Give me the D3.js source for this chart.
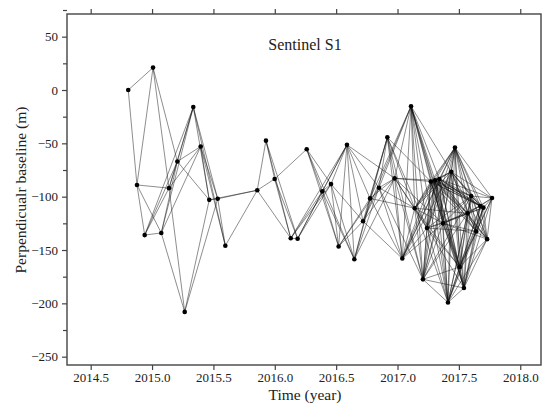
<!DOCTYPE html>
<html><head><meta charset="utf-8">
<script src="https://cdn.jsdelivr.net/npm/d3@7"></script>
<style>body{margin:0;background:#fff}svg{display:block}</style>
</head><body>
<svg id="c" width="548" height="403"></svg>
<script>
// Acquisition dates (decimal year) and perpendicular baselines (m)
const acqTime = [2014.806, 2014.877, 2014.940, 2015.008, 2015.075, 2015.138, 2015.206, 2015.266, 2015.336, 2015.396,
  2015.466, 2015.535, 2015.597, 2015.857, 2015.928, 2015.999, 2016.130, 2016.186, 2016.260, 2016.387,
  2016.458, 2016.520, 2016.588, 2016.648, 2016.719, 2016.776, 2016.849, 2016.917, 2016.977, 2017.039,
  2017.110, 2017.140, 2017.207, 2017.240, 2017.271, 2017.306, 2017.341, 2017.370, 2017.411, 2017.438,
  2017.468, 2017.506, 2017.541, 2017.571, 2017.600, 2017.641, 2017.674, 2017.700, 2017.730, 2017.770];
const baseline = [0, -89, -136, 21, -134, -92, -67, -208, -16, -53,
  -103, -102, -146, -94, -47.5, -83.4, -139, -139.4, -55.5, -95,
  -88.2, -146.7, -51.4, -158.7, -123, -101.6, -91.6, -44.4, -82.8, -158,
  -15.2, -110.8, -177.5, -129.4, -85.8, -84.7, -83.5, -125, -199.2, -76.7,
  -54, -165.9, -185.6, -115.6, -99.4, -132.6, -108.7, -110.3, -139.8, -101.3];
// Interferometric pairs: for each acquisition, the later acquisitions it is linked to
const neighbours = [
  [1, 3], [2, 4, 5, 3], [4, 5, 6, 8], [5, 6], [6, 8, 9, 7],
  [8, 9, 7, 6], [8, 9, 10], [10, 11], [10, 11, 12], [10, 11, 12],
  [11, 13], [12, 13], [13], [14, 15, 16], [15, 16, 17],
  [16, 17, 18], [17, 19, 20, 22], [19, 20, 22], [19, 20, 21, 23], [20, 21, 22, 23],
  [21, 22, 23, 24], [22, 24, 25, 26], [23, 24, 25, 26, 28], [25, 26, 27, 28], [26, 27, 28, 29, 30],
  [27, 28, 29, 30, 31], [27, 28, 29, 30, 31, 32], [28, 29, 31, 32, 33, 34], [29, 30, 31, 32, 33, 34, 35, 37], [30, 31, 33, 34, 35, 36, 37, 39, 40],
  [31, 32, 33, 34, 35, 36, 37, 38, 39, 41, 42], [32, 33, 34, 35, 36, 37, 38, 39, 40, 41, 43], [33, 34, 35, 36, 37, 38, 39, 40, 41, 42, 43, 44], [34, 35, 36, 37, 38, 39, 40, 41, 42, 43, 44, 45], [35, 36, 37, 38, 39, 40, 41, 42, 43, 44, 45, 46, 47],
  [36, 37, 38, 39, 40, 41, 42, 43, 44, 45, 46, 47, 48], [37, 38, 39, 40, 41, 42, 43, 44, 45, 46, 47, 48, 49], [38, 39, 40, 41, 42, 43, 44, 45, 46, 47, 48], [39, 40, 41, 42, 43, 44, 45, 46, 47, 48], [40, 41, 42, 43, 44, 45, 46, 47, 48, 49],
  [41, 42, 43, 44, 45, 46, 47, 48, 49], [42, 43, 44, 45, 46, 47, 48, 49], [43, 44, 45, 46, 47, 48, 49], [44, 45, 46, 47, 48, 49], [45, 46, 47, 48, 49],
  [46, 47, 48, 49], [47, 48, 49], [48, 49], [49], []
];
const xTicks = [2014.5, 2015.0, 2015.5, 2016.0, 2016.5, 2017.0, 2017.5, 2018.0];
const yTicks = [50, 0, -50, -100, -150, -200, -250];
const yMinorTicks = [75, 25, -25, -75, -125, -175, -225];
const titleText = "Sentinel S1";
const xLabel = "Time (year)";
const yLabel = "Perpendicualr baseline (m)";

const W = 548, H = 403;
const m = {left: 67, right: 541, top: 14, bottom: 365};
const x = d3.scaleLinear().domain([2014.307, 2018.169]).range([m.left, m.right]);
const y = d3.scaleLinear().domain([-257.8, 71.25]).range([m.bottom, m.top]);

const svg = d3.select("#c");
svg.append("rect").attr("width", W).attr("height", H).attr("fill", "#fff");
const font = "Liberation Serif, Times New Roman, serif";

// links
const pairs = [];
neighbours.forEach((list, i) => list.forEach(j => pairs.push([i, j])));
svg.append("g").selectAll("line").data(pairs).join("line")
  .attr("x1", d => x(acqTime[d[0]])).attr("y1", d => y(baseline[d[0]]))
  .attr("x2", d => x(acqTime[d[1]])).attr("y2", d => y(baseline[d[1]]))
  .attr("stroke", "#111").attr("stroke-width", 0.6).attr("stroke-opacity", 0.8);

// points
svg.append("g").selectAll("circle").data(acqTime).join("circle")
  .attr("cx", d => x(d)).attr("cy", (d, i) => y(baseline[i])).attr("r", 2.3).attr("fill", "#000");

// frame
svg.append("rect").attr("x", m.left).attr("y", m.top).attr("width", m.right - m.left).attr("height", m.bottom - m.top)
  .attr("fill", "none").attr("stroke", "#444").attr("stroke-width", 1.4);

function styleAxis(g) {
  g.select(".domain").remove();
  g.selectAll(".tick line").attr("stroke", "#444").attr("stroke-width", 1.2);
  g.selectAll(".tick text").style("font-family", font).attr("font-size", 13).attr("fill", "#222");
}
svg.append("g").attr("transform", `translate(0,${m.bottom})`)
  .call(d3.axisBottom(x).tickValues(xTicks).tickFormat(d3.format(".1f")).tickSize(5).tickPadding(3)).call(styleAxis);
svg.append("g").attr("transform", `translate(0,${m.top})`)
  .call(d3.axisTop(x).tickValues(xTicks).tickFormat("").tickSize(5)).call(styleAxis);
svg.append("g").attr("transform", `translate(${m.left},0)`)
  .call(d3.axisLeft(y).tickValues(yTicks).tickFormat(d3.format("d")).tickSize(5).tickPadding(4)).call(styleAxis);
svg.append("g").attr("transform", `translate(${m.left},0)`)
  .call(d3.axisLeft(y).tickValues(yMinorTicks).tickFormat("").tickSize(4)).call(styleAxis);

// texts
svg.append("text").attr("x", 305).attr("y", 50).attr("text-anchor", "middle")
  .style("font-family", font).attr("font-size", 16).attr("fill", "#222").text(titleText);
svg.append("text").attr("x", 305).attr("y", 400).attr("text-anchor", "middle")
  .style("font-family", font).attr("font-size", 15.5).attr("fill", "#222").text(xLabel);
svg.append("text").attr("transform", "translate(26,190) rotate(-90)").attr("text-anchor", "middle")
  .style("font-family", font).attr("font-size", 15.5).attr("fill", "#222").text(yLabel);
</script>
</body></html>
